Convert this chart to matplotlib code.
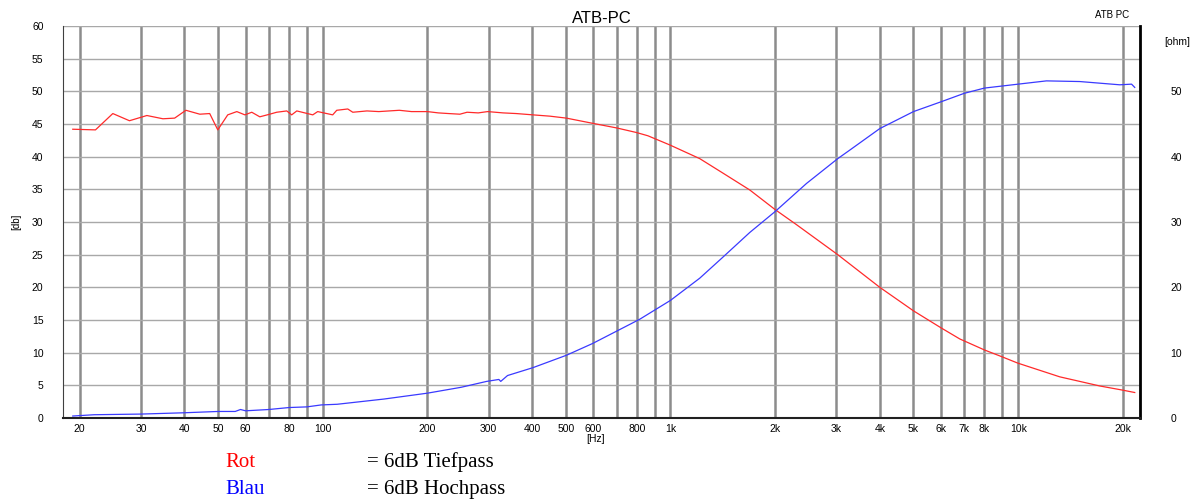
import matplotlib.pyplot as plt
from matplotlib.ticker import FixedLocator, NullFormatter, NullLocator

# Rot = 6dB Tiefpass
freq_rot = [19.1, 22.2, 24.9, 27.8, 31.2, 34.7, 37.5, 40.4, 44.3, 47.3, 49.9, 53.3,
            56.6, 59.7, 62.5, 65.9, 70.4, 73.7, 78.8, 81.4, 84.2, 93.6, 96.7, 106.8,
            109.7, 118, 122, 134, 145, 166, 180, 200, 215, 230, 248, 260, 280, 298,
            330, 360, 402, 450, 502, 598, 700, 798, 861, 995, 1214, 1414, 1691, 2000,
            2303, 3028, 4000, 5000, 6000, 6793, 8010, 8955, 9975, 13170, 17170, 19810,
            21640]
rot = [44.2, 44.1, 46.6, 45.5, 46.3, 45.8, 45.9, 47.1, 46.5, 46.6, 44.1, 46.4,
       46.9, 46.4, 46.8, 46.1, 46.5, 46.8, 47.0, 46.4, 47.0, 46.4, 46.9, 46.4,
       47.1, 47.3, 46.8, 47.0, 46.9, 47.1, 46.9, 46.9, 46.7, 46.6, 46.5, 46.8, 46.7, 46.9,
       46.7, 46.6, 46.4, 46.2, 45.9, 45.1, 44.4, 43.7, 43.2, 41.8, 39.7, 37.5, 34.9, 31.9,
       29.6, 25.0, 20.0, 16.4, 13.8, 12.1, 10.4, 9.4, 8.4, 6.3, 4.9, 4.3,
       3.9]

# Blau = 6dB Hochpass
freq_blau = [19.1, 22, 30, 40, 50, 56, 58, 60, 70, 80, 90, 99, 110, 150, 200, 250,
             296, 321, 325, 340, 402, 502, 597, 815, 1000, 1214, 1414, 1691, 2000,
             2462, 3028, 3278, 4000, 5000, 6000, 7000, 8000, 10000, 12060, 15030,
             19600, 21190, 21640]
blau = [0.3, 0.5, 0.6, 0.8, 1.0, 1.0, 1.3, 1.1, 1.3, 1.6, 1.7, 2.0, 2.1, 2.9, 3.8, 4.7,
        5.6, 5.9, 5.6, 6.5, 7.7, 9.6, 11.4, 15.1, 18.0, 21.4, 24.6, 28.4, 31.6,
        35.9, 39.7, 41.0, 44.3, 46.9, 48.4, 49.7, 50.5, 51.1, 51.6, 51.5,
        51.0, 51.1, 50.6]

grid_freqs = [20, 30, 40, 50, 60, 70, 80, 90, 100, 200, 300, 400, 500, 600, 700, 800,
              900, 1000, 2000, 3000, 4000, 5000, 6000, 7000, 8000, 9000, 10000, 20000]
label_freqs = [20, 30, 40, 50, 60, 80, 100, 200, 300, 400, 500, 600, 800, 1000,
               2000, 3000, 4000, 5000, 6000, 7000, 8000, 10000, 20000]
label_texts = ['20', '30', '40', '50', '60', '80', '100', '200', '300', '400', '500',
               '600', '800', '1k', '2k', '3k', '4k', '5k', '6k', '7k', '8k', '10k', '20k']

plt.rcParams['font.family'] = ['Liberation Sans', 'DejaVu Sans']

fig = plt.figure(figsize=(12.04, 5.03), dpi=100)
ax = fig.add_axes([0.0523, 0.169, 0.8945, 0.7793])

for f in grid_freqs:
    ax.axvline(f, color='#8c8c8c', lw=1.8, zorder=1)
for v in range(5, 61, 5):
    ax.axhline(v, color='#a8a8a8', lw=1.0, zorder=1)

ax.plot(freq_rot, rot, color='#ff2a2a', lw=0.9, zorder=3)
ax.plot(freq_blau, blau, color='#3a3aff', lw=0.9, zorder=3)

ax.set_xscale('log')
ax.set_xlim(17.9, 22400)
ax.set_ylim(0, 60)
ax.xaxis.set_major_locator(FixedLocator(label_freqs))
ax.xaxis.set_minor_locator(NullLocator())
ax.xaxis.set_minor_formatter(NullFormatter())
ax.set_xticklabels(label_texts)
ax.set_yticks(range(0, 61, 5))
ax.tick_params(axis='both', length=0, labelsize=7.5, pad=4)
ax.tick_params(axis='y', pad=14)

ax.spines['top'].set_visible(False)
ax.spines['left'].set_color('#404040')
ax.spines['bottom'].set_color('#202020')
ax.spines['bottom'].set_linewidth(1.5)
ax.spines['right'].set_color('black')
ax.spines['right'].set_linewidth(2)

ax2 = ax.twinx()
ax2.set_ylim(0, 60)
ax2.set_yticks(range(0, 51, 10))
ax2.tick_params(axis='y', length=0, labelsize=7.5, pad=22)
for s in ax2.spines.values():
    s.set_visible(False)

ax.set_title('ATB-PC', fontsize=12, pad=2)
ax.set_ylabel('[db]', fontsize=7, labelpad=8)
fig.text(0.495, 0.128, '[Hz]', fontsize=7.5, ha='center', va='center')
fig.text(0.924, 0.97, 'ATB PC', fontsize=7, ha='center', va='center')
fig.text(0.978, 0.917, '[ohm]', fontsize=7.5, ha='center', va='center')

fig.text(0.187, 0.081, 'Rot', color='red', fontsize=15, family='Liberation Serif', va='center')
fig.text(0.305, 0.081, '= 6dB Tiefpass', fontsize=15, family='Liberation Serif', va='center')
fig.text(0.187, 0.026, 'Blau', color='blue', fontsize=15, family='Liberation Serif', va='center')
fig.text(0.305, 0.026, '= 6dB Hochpass', fontsize=15, family='Liberation Serif', va='center')

fig.savefig('out.png', dpi=100)
